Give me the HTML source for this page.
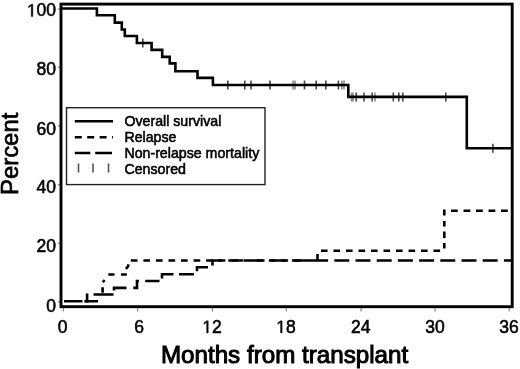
<!DOCTYPE html>
<html><head><meta charset="utf-8">
<style>
html,body{margin:0;padding:0;background:#fff;width:520px;height:369px;overflow:hidden}
svg{display:block;filter:grayscale(1) blur(0.3px)}
text{font-family:"Liberation Sans",sans-serif;fill:#000;stroke:#000;stroke-width:0.55px}
</style></head>
<body>
<svg width="520" height="369" viewBox="0 0 520 369">
<rect x="0" y="0" width="520" height="369" fill="#fff"/>
<!-- axis ticks -->
<g stroke="#888" stroke-width="1.2">
<path d="M58,9.2H60 M58,67.4H60 M58,125.9H60 M58,184.6H60 M58,243.4H60 M58,301.9H60"/>
<path d="M63.4,307V311.4 M137.6,307V311.4 M212.4,307V311.4 M286.3,307V311.4 M361.1,307V311.4 M435.1,307V311.4 M509.2,307V311.4"/>
</g>
<!-- frame -->
<rect x="61" y="4.1" width="451.2" height="302.6" fill="none" stroke="#000" stroke-width="2.9"/>
<!-- y labels -->
<g font-size="17.5" text-anchor="end" style="stroke-width:0.45px">
<text x="56.06" y="16.40">00</text>
<text x="56.06" y="75.00">80</text>
<text x="56.06" y="134.60">60</text>
<text x="56.06" y="193.40">40</text>
<text x="56.06" y="252.30">20</text>
<text x="56.06" y="311.80">0</text>
</g>
<!-- x labels -->
<g font-size="17.5" text-anchor="middle" style="stroke-width:0.45px">
<text x="62.5" y="332.9">0</text>
<text x="139.0" y="332.9">6</text>
<text x="212.00" y="332.9" text-anchor="start">2</text>
<text x="285.90" y="332.9" text-anchor="start">8</text>
<text x="360.8" y="332.9">24</text>
<text x="435.0" y="332.9">30</text>
<text x="509.1" y="332.9">36</text>
</g>
<g fill="#000" stroke="#000" stroke-width="52.7">
<path transform="translate(26.861,16.40) scale(0.008545,-0.008545)" d="M515 0V1237L197 1010V1180L530 1409H696V0Z"/>
<path transform="translate(202.267,332.90) scale(0.008545,-0.008545)" d="M515 0V1237L197 1010V1180L530 1409H696V0Z"/>
<path transform="translate(276.167,332.90) scale(0.008545,-0.008545)" d="M515 0V1237L197 1010V1180L530 1409H696V0Z"/>
</g>
<text x="160.9" y="362.8" font-size="24.2" style="stroke-width:1px">Months from transplant</text>
<text transform="translate(17.9,195) rotate(-90)" font-size="23.9" style="stroke-width:0.7px">Percent</text>

<!-- censor ticks -->
<g stroke="#4a4a4a" stroke-width="1.6">
<path d="M142.8,38.5V47.5"/>
<path d="M227.8,80.5V89.5 M244.8,80.5V89.5 M251,80.5V89.5 M270,80.5V89.5 M304.5,80.5V89.5 M316.2,80.5V89.5 M325.8,80.5V89.5 M338.4,80.5V89.5"/>
<path d="M356.2,92.6V101.6 M364,92.6V101.6 M372.1,92.6V101.6 M393.3,92.6V101.6 M398.8,92.6V101.6 M402.8,92.6V101.6 M445.8,92.6V101.6"/>
<path d="M492.9,143.8V152.8"/>
</g>
<g stroke="#8a8a8a" stroke-width="1.6">
<path d="M293,80.5V89.5 M295,80.5V89.5 M341.8,80.5V89.5 M344,80.5V89.5 M351.5,92.6V101.6 M353,92.6V101.6 M375,92.6V101.6"/>
</g>
<!-- overall survival -->
<path fill="none" stroke="#000" stroke-width="2.6" stroke-linejoin="miter" d="M62,8.5H96.9V15.2H114.8V22.6H121.8V29.5H124.8V36H136.9V43H151.6V49.9H162.2V56.9H169.7V63.4H175.4V71.2H197.5V77.9H212.9V85H348.3V96.9H466.8V148.3H511"/>

<!-- NRM long dash -->
<path fill="none" stroke="#000" stroke-width="2.6" stroke-linejoin="miter" d="M64,301.3H82.5M84.6,301.3H87.1V293.4M93.5,294.5H113.5M114,290.5V287.9H126.5M133.3,287.9H137V281H139M145.2,281H159.5M162,278.5V274.3H173.5M179,274.3H194M197,271.3V267.3H208M212.5,265.5V260.5H222.1M228.3,260.5H243.3M249.5,260.5H264.5M270.7,260.5H285.7M291.9,260.5H306.9M313.1,260.5H328.1M334.3,260.5H349.3M355.5,260.5H370.5M376.7,260.5H391.7M397.9,260.5H412.9M419.1,260.5H434.1M440.3,260.5H455.3M461.5,260.5H476.5M482.7,260.5H497.7M503.9,260.5H511"/>
<!-- Relapse short dash -->
<path fill="none" stroke="#000" stroke-width="2.6" stroke-linejoin="miter" d="M84.6,301.3H98M102.6,292.7V287.3M102.7,282.1L104.7,280.1M108.3,274.5H114.5M121,274.5H126.8M125.9,268.9L127.9,266.6L128.6,264.4M130.8,260.5H137.5M143.35,260.5H150.05M155.9,260.5H162.6M168.45,260.5H175.15M181,260.5H187.7M193.55,260.5H200.25M206.1,260.5H212.8M218.65,260.5H225.35M231.2,260.5H237.9M243.75,260.5H250.45M256.3,260.5H263M268.85,260.5H275.55M281.4,260.5H288.1M293.95,260.5H300.65M306.5,260.5H313.2M317.5,260.5V254M321,250.8H327.6M333.5,250.8H340.1M346,250.8H352.6M358.5,250.8H365.1M371,250.8H377.6M383.5,250.8H390.1M396,250.8H402.6M408.5,250.8H415.1M421,250.8H427.6M433.5,250.8H440.1M444.3,248.5V243M444.3,238V231.5M444.3,226.5V221M444.3,215.5V210.8H445.5M451,210.8H457.8M463.5,210.8H470.3M476,210.8H482.8M488.5,210.8H495.3M501,210.8H507.8"/>

<!-- legend -->
<rect x="66.5" y="107.7" width="198.5" height="76.9" fill="#fff" stroke="#222" stroke-width="1.4"/>
<path d="M74.8,121.2H113" stroke="#000" stroke-width="2.6"/>
<path d="M74.8,137.3H112.9" stroke="#000" stroke-width="2.6" stroke-dasharray="7 5.4"/>
<path d="M74.8,153H112" stroke="#000" stroke-width="2.6" stroke-dasharray="15.5 4.9 16.8 10"/>
<path d="M78.5,163.5V172.5 M93,163.5V172.5 M108.5,163.5V172.5" stroke="#555" stroke-width="1.6"/>
<g font-size="14.2">
<text x="124.4" y="126.1">Overall survival</text>
<text x="124.4" y="142">Relapse</text>
<text x="124.4" y="157.9">Non-relapse mortality</text>
<text x="124.4" y="173.8">Censored</text>
</g>
</svg>
</body></html>
